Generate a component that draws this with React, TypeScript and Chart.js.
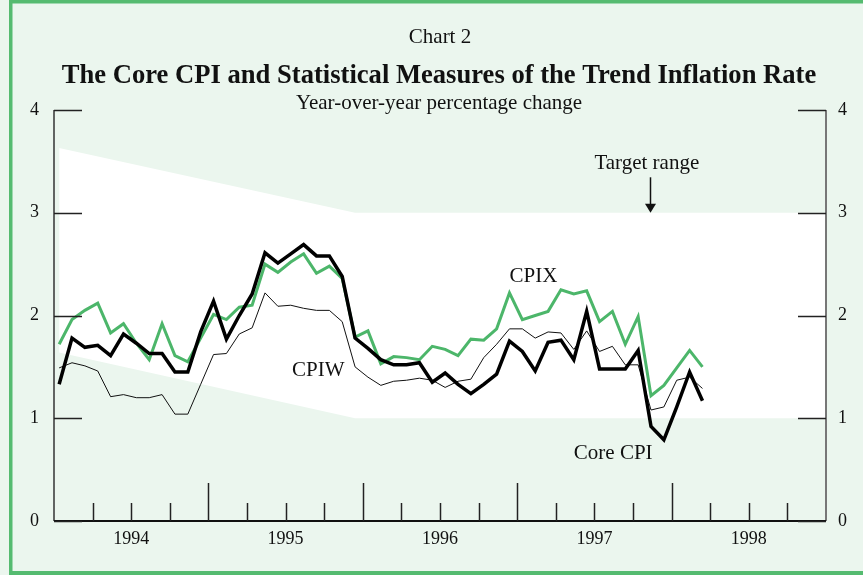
import React, { useEffect, useRef } from 'react';
import { Chart, registerables } from 'chart.js';

Chart.register(...registerables);

// ---- data ----
const YEARS = ['1994', '1995', '1996', '1997', '1998'];
const Y_TICKS = [0, 1, 2, 3, 4];
// monthly observations, first one at month 0.4 of the axis (months since start of 1994 axis)
const FIRST_MONTH = 0.4;
const CPIX = [
  1.72, 1.96, 2.05, 2.12, 1.83, 1.92, 1.73, 1.57, 1.92, 1.61, 1.55, 1.78,
  2.01, 1.96, 2.08, 2.10, 2.50, 2.42, 2.52, 2.60, 2.41, 2.48, 2.36, 1.79,
  1.85, 1.53, 1.60, 1.59, 1.57, 1.70, 1.67, 1.61, 1.77, 1.76, 1.87, 2.22,
  1.96, 2.00, 2.04, 2.25, 2.21, 2.24, 1.94, 2.04, 1.72, 1.99, 1.22, 1.32,
  1.49, 1.66, 1.50,
];
const CORE_CPI = [
  1.33, 1.78, 1.69, 1.71, 1.61, 1.82, 1.73, 1.63, 1.63, 1.45, 1.45, 1.84,
  2.14, 1.77, 2.00, 2.21, 2.61, 2.51, 2.60, 2.69, 2.58, 2.58, 2.38, 1.78,
  1.68, 1.57, 1.52, 1.52, 1.54, 1.35, 1.44, 1.33, 1.24, 1.33, 1.43, 1.75,
  1.65, 1.46, 1.74, 1.76, 1.57, 2.04, 1.48, 1.48, 1.48, 1.66, 0.92, 0.79,
  1.11, 1.45, 1.17,
];
const CPIW = [
  1.49, 1.54, 1.51, 1.46, 1.21, 1.23, 1.20, 1.20, 1.23, 1.04, 1.04, 1.33,
  1.62, 1.63, 1.82, 1.88, 2.22, 2.09, 2.10, 2.07, 2.05, 2.05, 1.94, 1.50,
  1.40, 1.32, 1.36, 1.37, 1.39, 1.37, 1.30, 1.36, 1.38, 1.59, 1.72, 1.87,
  1.87, 1.78, 1.84, 1.83, 1.67, 1.85, 1.65, 1.70, 1.52, 1.52, 1.08, 1.11,
  1.37, 1.40, 1.29,
];
// inflation-control target range
const TARGET_MONTHS = [0.4, 23.4, 60];
const TARGET_UPPER = [3.63, 3.0, 3.0];
const TARGET_LOWER = [1.64, 1.0, 1.0];

// ---- styles ----
const BG = '#ebf6ee';
const FRAME = '#55bb70';
const GREEN = '#4cb66a';
const SERIF = '"Liberation Serif", "Times New Roman", serif';

const toPoints = (vals: number[]) => vals.map((v, i) => ({ x: FIRST_MONTH + i, y: v }));
const bandPoints = (vals: number[]) => vals.map((v, i) => ({ x: TARGET_MONTHS[i], y: v }));

const decorPlugin = {
  id: 'decor',
  beforeDraw(chart: any) {
    const { ctx, width, height } = chart;
    ctx.save();
    ctx.fillStyle = BG;
    ctx.fillRect(0, 0, width, height);
    ctx.fillStyle = FRAME;
    ctx.fillRect(9, 0, width - 9, 3.5);
    ctx.fillRect(9, 0, 3.5, height);
    ctx.fillRect(9, height - 4, width - 9, 4);
    ctx.restore();
  },
  afterDraw(chart: any) {
    const { ctx, chartArea: a, scales } = chart;
    const x = scales.x;
    const y = scales.y;
    const cx = (a.left + a.right) / 2;
    ctx.save();
    // headings
    ctx.fillStyle = '#111';
    ctx.textAlign = 'center';
    ctx.textBaseline = 'alphabetic';
    ctx.font = `21px ${SERIF}`;
    ctx.fillText('Chart 2', cx, 43);
    ctx.font = `bold 26.6px ${SERIF}`;
    ctx.fillText('The Core CPI and Statistical Measures of the Trend Inflation Rate', cx - 1, 83);
    ctx.font = `21px ${SERIF}`;
    ctx.fillText('Year-over-year percentage change', cx - 1, 109);

    // axes
    ctx.strokeStyle = '#333';
    ctx.lineWidth = 1.5;
    ctx.beginPath();
    ctx.moveTo(a.left, a.top);
    ctx.lineTo(a.left, a.bottom);
    ctx.stroke();
    ctx.strokeStyle = '#777';
    ctx.lineWidth = 2;
    ctx.beginPath();
    ctx.moveTo(a.right, a.top);
    ctx.lineTo(a.right, a.bottom);
    ctx.stroke();
    ctx.strokeStyle = '#111';
    ctx.lineWidth = 2;
    ctx.beginPath();
    ctx.moveTo(a.left, a.bottom);
    ctx.lineTo(a.right, a.bottom);
    ctx.stroke();
    // y ticks (inward)
    ctx.lineWidth = 1.5;
    ctx.strokeStyle = '#222';
    Y_TICKS.forEach((t) => {
      const py = Math.round(y.getPixelForValue(t)) + 0.5;
      ctx.beginPath();
      ctx.moveTo(a.left, py);
      ctx.lineTo(a.left + 28, py);
      ctx.moveTo(a.right - 28, py);
      ctx.lineTo(a.right, py);
      ctx.stroke();
    });
    // x ticks (inward): quarters short, years long
    for (let m = 3; m < 60; m += 3) {
      const px = Math.round(x.getPixelForValue(m)) + 0.5;
      const len = m % 12 === 0 ? 38 : 18;
      ctx.beginPath();
      ctx.moveTo(px, a.bottom);
      ctx.lineTo(px, a.bottom - len);
      ctx.stroke();
    }

    // series labels
    ctx.textAlign = 'left';
    ctx.font = `21px ${SERIF}`;
    ctx.fillStyle = '#111';
    ctx.fillText('CPIX', x.getPixelForValue(35.4), y.getPixelForValue(2.33));
    ctx.fillText('CPIW', x.getPixelForValue(18.5), y.getPixelForValue(1.41));
    ctx.fillText('Core CPI', x.getPixelForValue(40.4), y.getPixelForValue(0.6));
    ctx.fillText('Target range', x.getPixelForValue(42.0), y.getPixelForValue(3.43));
    // arrow
    const ax = Math.round(x.getPixelForValue(46.3)) + 0.5;
    const y0 = y.getPixelForValue(3.345);
    const y1 = y.getPixelForValue(3.0);
    ctx.strokeStyle = '#111';
    ctx.lineWidth = 1.5;
    ctx.beginPath();
    ctx.moveTo(ax, y0);
    ctx.lineTo(ax, y1 - 6);
    ctx.stroke();
    ctx.beginPath();
    ctx.moveTo(ax - 5.5, y1 - 9);
    ctx.lineTo(ax + 5.5, y1 - 9);
    ctx.lineTo(ax, y1);
    ctx.closePath();
    ctx.fill();
    ctx.restore();
  },
};

export default function App() {
  const ref = useRef<HTMLCanvasElement | null>(null);
  useEffect(() => {
    if (!ref.current) return;
    const tickFont = { family: SERIF, size: 18 };
    const chart = new Chart(ref.current, {
      type: 'line',
      data: {
        datasets: [
          {
            label: 'Target upper',
            data: bandPoints(TARGET_UPPER),
            borderColor: 'transparent',
            borderWidth: 0,
            backgroundColor: '#ffffff',
            pointRadius: 0,
            fill: '+1',
            order: 10,
          },
          {
            label: 'Target lower',
            data: bandPoints(TARGET_LOWER),
            borderColor: 'transparent',
            borderWidth: 0,
            pointRadius: 0,
            fill: false,
            order: 11,
          },
          {
            label: 'CPIW',
            data: toPoints(CPIW),
            borderColor: '#111',
            borderWidth: 1,
            pointRadius: 0,
            fill: false,
            borderJoinStyle: 'miter',
            order: 3,
          },
          {
            label: 'CPIX',
            data: toPoints(CPIX),
            borderColor: GREEN,
            borderWidth: 3,
            pointRadius: 0,
            fill: false,
            borderJoinStyle: 'miter',
            order: 2,
          },
          {
            label: 'Core CPI',
            data: toPoints(CORE_CPI),
            borderColor: '#000',
            borderWidth: 3.5,
            pointRadius: 0,
            fill: false,
            borderJoinStyle: 'miter',
            order: 1,
          },
        ] as any,
      },
      options: {
        responsive: false,
        animation: false,
        devicePixelRatio: 1,
        layout: { padding: { top: 110, left: 0, right: 0, bottom: 0 } },
        plugins: {
          legend: { display: false },
          tooltip: { enabled: false },
          title: { display: false },
        },
        scales: {
          x: {
            type: 'linear',
            min: 0,
            max: 60,
            grid: { display: false, drawTicks: false },
            border: { display: false },
            ticks: {
              stepSize: 3,
              autoSkip: false,
              maxRotation: 0,
              padding: 7,
              color: '#111',
              font: tickFont,
              callback: (v: any) => {
                const n = Number(v);
                return n % 12 === 6 ? YEARS[(n - 6) / 12] : '';
              },
            },
            afterFit: (s: any) => {
              s.height = 54;
            },
          },
          y: {
            type: 'linear',
            position: 'left',
            min: 0,
            max: 4,
            grid: { display: false, drawTicks: false },
            border: { display: false },
            ticks: { stepSize: 1, padding: 15, color: '#111', font: tickFont },
            afterFit: (s: any) => {
              s.width = 54;
            },
          },
          y2: {
            type: 'linear',
            position: 'right',
            min: 0,
            max: 4,
            grid: { display: false, drawTicks: false },
            border: { display: false },
            ticks: { stepSize: 1, padding: 12, color: '#111', font: tickFont },
            afterFit: (s: any) => {
              s.width = 37;
            },
          },
        },
      } as any,
      plugins: [decorPlugin],
    });
    return () => chart.destroy();
  }, []);
  return (
    <canvas
      ref={ref}
      width={863}
      height={575}
      style={{ position: 'fixed', left: 0, top: 0, width: 863, height: 575, display: 'block' }}
    />
  );
}
